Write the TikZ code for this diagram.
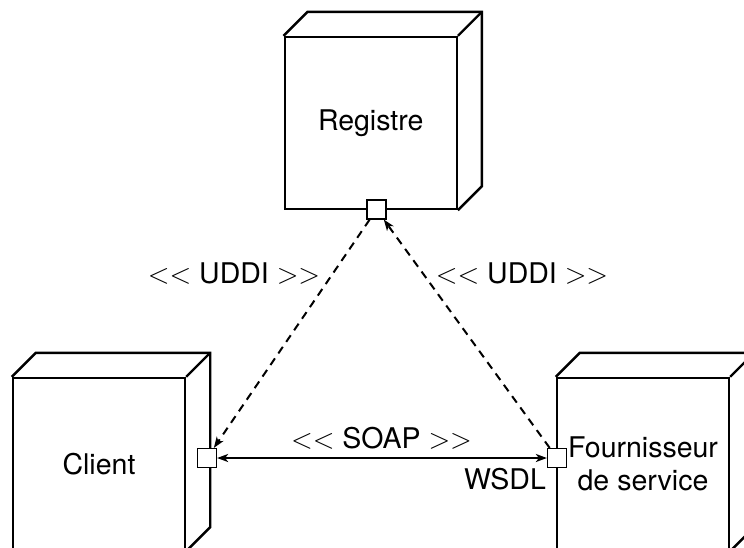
\documentclass[tikz,border=0pt]{standalone}
\usepackage{fix-cm}
\usepackage{fontspec}
\setmainfont{TeX Gyre Heros}
\usetikzlibrary{arrows.meta}
\tikzset{
  face/.style={draw, line width=2.4pt, minimum width=172pt, minimum height=172pt, inner sep=0pt, align=center},
  edge3d/.style={line width=2.4pt, line join=miter},
  port/.style={draw, line width=1.2pt, fill=white, minimum size=19pt, inner sep=0pt},
  tip/.style={},
  dep/.style={dashed, dash pattern=on 8pt off 6pt, line width=2pt, -{Stealth[length=11pt,width=8pt,inset=3pt]}},
  soap/.style={line width=2.2pt, {Stealth[length=11pt,width=8pt,inset=3pt]}-{Stealth[length=11pt,width=8pt,inset=3pt]}},
  lbl/.style={inner sep=0pt}
}
\newcommand{\boxsides}[1]{%
  \draw[edge3d] (#1.north west) -- ++(24,-24) -| ([shift={(24,-24)}]#1.south east) -- (#1.south east);
  \draw[edge3d] (#1.north east) -- ++(24,-24);
}
\begin{document}
\begin{tikzpicture}[x=1pt,y=-1pt,font=\fontsize{28.5}{33}\selectfont]
\clip (0,0) rectangle (744,547);
\fill[white] (0,0) rectangle (744,547);
% nodes
\node[face] (reg) at (370.7,123) {Registre};
\boxsides{reg}
\node[face] (cli) at (99,464) {Client};
\boxsides{cli}
\node[face] (fou) at (643,464) {Fournisseur\\de service};
\boxsides{fou}
% ports
\node[port] (rport) at (376.5,209.5) {};
\node[port] (cport) at (207,458) {};
\node[port] (fport) at (557,458) {};
% connectors
\draw[dep] (rport) -- (cport);
\draw[dep] (fport) -- (rport);
\draw[soap] (cport) -- (fport);
% labels
\node[lbl] (l1) at (234,273) {$<<$ UDDI $>>$};
\node[lbl] (l2) at (522,273) {$<<$ UDDI $>>$};
\node[lbl] (l3) at (381.5,438) {$<<$ SOAP $>>$};
\node[lbl] (l4) at (505,479) {WSDL};
\end{tikzpicture}
\end{document}
